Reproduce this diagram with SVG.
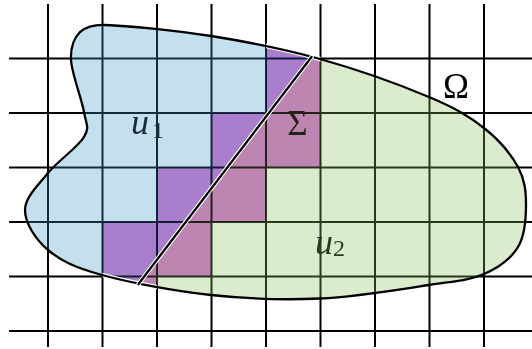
<svg xmlns="http://www.w3.org/2000/svg" width="532" height="349" viewBox="0 0 532 349">
<style>
.grid line{stroke:#000;stroke-width:2}
.lbl{font-family:"Liberation Serif","Times New Roman",serif;fill:#000}
.it{font-style:italic}
.halo{fill:none;stroke:#fff;stroke-width:4.5;stroke-linecap:round;stroke-linejoin:round}
.edge{fill:none;stroke:#000;stroke-width:2.3;stroke-linecap:round;stroke-linejoin:round}
</style>
<defs>
<path id="omegaPath" d="M105,25 C126.8,25.7 175.2,30.3 211,36 C246.8,41.7 283.7,48.8 320,59 C356.3,69.2 401.7,85.5 429,97 C456.3,108.5 469.2,116.3 484,128 C498.8,139.7 511,154.2 518,167 C525,179.8 526,191.7 526,205 C526,218.3 525,235.5 518,247 C511,258.5 498.8,267.7 484,274 C469.2,280.3 456.3,280.9 429,285 C401.7,289.1 356.3,296.8 320,298.5 C283.7,300.2 247.3,298.9 211,295 C174.7,291.1 129.2,282.5 102,275 C74.8,267.5 60.8,260.8 48,250 C35.2,239.2 25,222.8 25,210 C25,197.2 38.2,185.2 48,173 C57.8,160.8 78,147.2 84,137 C90,126.8 86.2,124.8 84,112 C81.8,99.2 71.7,73.3 71,60 C70.3,46.7 74.3,37.8 80,32 C86,27 96.3,24.7 105,25 Z"/>
<path id="cutPath" d="M266,4 H320.5 V167.5 H266 V222 H211.5 V276.5 H157 V331 H102.5 V222 H157 V167.5 H211.5 V113 H266 Z"/>
<clipPath id="clipOmega"><use href="#omegaPath"/></clipPath>
<clipPath id="clipCut"><use href="#cutPath"/></clipPath>
</defs>

<g id="grid" class="grid">
<line x1="48" y1="4" x2="48" y2="347"/>
<line x1="102.5" y1="4" x2="102.5" y2="347"/>
<line x1="157" y1="4" x2="157" y2="347"/>
<line x1="211.5" y1="4" x2="211.5" y2="347"/>
<line x1="266" y1="4" x2="266" y2="347"/>
<line x1="320.5" y1="4" x2="320.5" y2="347"/>
<line x1="375" y1="4" x2="375" y2="347"/>
<line x1="429.5" y1="4" x2="429.5" y2="347"/>
<line x1="484" y1="4" x2="484" y2="347"/>
<line x1="9" y1="58.5" x2="532" y2="58.5"/>
<line x1="9" y1="113" x2="532" y2="113"/>
<line x1="9" y1="167.5" x2="532" y2="167.5"/>
<line x1="9" y1="222" x2="532" y2="222"/>
<line x1="9" y1="276.5" x2="532" y2="276.5"/>
<line x1="9" y1="331" x2="532" y2="331"/>
</g>

<g id="labels">
<g id="label-u1"><text class="lbl it" x="131" y="133.5" font-size="36">u</text><text class="lbl" x="152" y="138" font-size="24">1</text></g>
<g id="label-u2"><text class="lbl it" x="315" y="254" font-size="36">u</text><text class="lbl" x="333" y="256" font-size="24">2</text></g>
<text id="label-sigma" class="lbl" x="297.5" y="134.5" font-size="35" text-anchor="middle">Σ</text>
<text id="label-omega" class="lbl" x="456" y="98" font-size="35" text-anchor="middle">Ω</text>
</g>

<g id="regions" clip-path="url(#clipOmega)">
<g id="u1"><path d="M-10,-10 H362.6 L80.6,360 H-10 Z" fill="#3a94c6" fill-opacity="0.3"/></g>
<g id="u2"><path d="M362.6,-10 H545 V360 H80.6 Z" fill="#87bc5c" fill-opacity="0.3"/></g>
</g>
<use id="cut-cells" href="#cutPath" fill="#dc91dc" clip-path="url(#clipOmega)" style="mix-blend-mode:multiply"/>

<g id="omega">
<use href="#omegaPath" class="halo" clip-path="url(#clipCut)"/>
<use href="#omegaPath" class="edge"/>
</g>
<g id="sigma">
<line class="halo" x1="138.5" y1="284" x2="311.5" y2="57"/>
<line class="edge" x1="138.5" y1="284" x2="311.5" y2="57"/>
</g>
</svg>
